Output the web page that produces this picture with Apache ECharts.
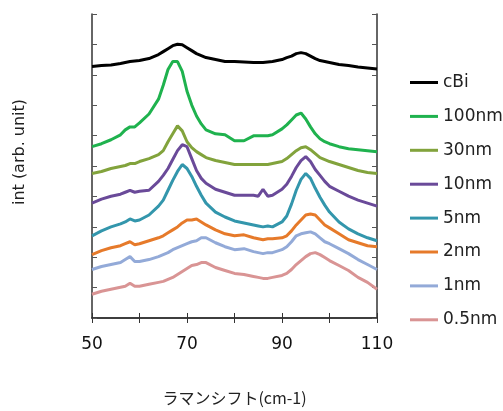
<!DOCTYPE html>
<html>
<head>
<meta charset="utf-8">
<script src="https://cdn.jsdelivr.net/npm/echarts@6/dist/echarts.min.js"></script>
<style>html,body{margin:0;padding:0;background:#fff}#c{width:503px;height:411px}</style>
</head>
<body>
<div id="c"></div>
<script>
// Raman shift (cm-1)
var shift = [50,52,54,56,57,58,59,60,62,64,65,66,67,68,69,70,71,72,73,74,76,78,80,82,84,85,86,87,88,90,91,92,93,94,95,96,97,98,99,100,102,104,106,108,110];
// intensity (arb. unit), offset stacked
var cBi    = [254,255,255.5,257,258,259,259.5,260,262,266,269,272,275,276.5,276,273,270,267,265,263,261,259,259,258.5,258,258,258,258.5,259,261,263,264.5,267,268,267,264.5,262,260,259,258,256,255,253.5,252.5,251.5];
var nm100  = [173,176,180,185,190,193,193,197,206,221,235,251,259,259,249,229,215,204,196,190,186,185,179,179,184,184,184,184,185,191,195,200,205,207,201,193,186,181,178,176,173,171,170,169,168];
var nm30   = [146,148,151,153,154,156,156,158,161,165,169,178,186,194,189,178,172,168,165,162,159,157,155,155,155,155,155,155,156,158,161,165,169,172,173,170,166,162,160,158,155,152,149,147,146];
var nm10   = [116,120,123,125,127,129,127,128,129,138,144,151,160,169,175,173,161,149,141,136,130,127,124,124,124,123,130,123,124,130,135,143,152,159,163,158,150,144,138,133,128,123,119,116,113];
var nm5    = [83,88,92,95,97,100,98,99,104,113,119,129,139,148,155,151,143,133,124,116,107,102,98,96,94,93,92,93,92,97,103,115,129,140,146,141,131,122,114,107,97,90,85,81,78];
var nm2    = [64,68,71,73,75,77,74,75,78,81,83,86,89,92,96,99,99,100,97,94,89,85,83,84,81,80,79,80,80,81,83,88,94,99,104,105,104,99,94,91,85,79,76,73,72];
var nm1    = [49,52,54,56,59,62,57,57,59,62,64,66,69,71,73,75,77,78,81,81,76,72,69,70,67,66,65,66,66,69,72,77,83,85,86,87,85,81,77,75,70,65,59,54,49];
var nm05   = [24,27,29,31,32,35,32,32,34,36,37,39,41,44,47,50,53,54,56,56,51,48,45,44,42,41,40,40,41,43,45,49,54,58,62,65,66,64,61,58,53,48,41,36,29];

var names  = ['cBi','100nm','30nm','10nm','5nm','2nm','1nm','0.5nm'];
var values = [cBi, nm100, nm30, nm10, nm5, nm2, nm1, nm05];
var colors = ['#000000','#1fb24e','#82a33c','#6a4a99','#3396ac','#e67a2a','#93aad8','#d99494'];

function pairs(ys){ return shift.map(function(x,i){ return [x, ys[i]]; }); }

var axisLineStyle = {color:'#333', width:1.5};
var chart = echarts.init(document.getElementById('c'), null, {renderer:'canvas'});
chart.setOption({
  animation:false,
  textStyle:{fontFamily:'DejaVu Sans'},
  grid:{left:92, right:126, top:14, bottom:90},
  legend:{
    orient:'vertical', left:410, top:74, padding:0,
    itemWidth:28, itemHeight:3, itemGap:16.9, icon:'rect',
    textStyle:{fontSize:17, lineHeight:17, color:'#222', fontFamily:'DejaVu Sans'},
    data:names
  },
  xAxis:[{
    type:'value', min:50, max:110, interval:10, position:'bottom',
    name:'ラマンシフト(cm-1)', nameLocation:'middle', nameGap:72,
    nameTextStyle:{fontSize:16, color:'#222', fontFamily:'Noto Sans CJK JP'},
    axisLine:{show:true, lineStyle:axisLineStyle},
    axisTick:{show:true, inside:true, length:5, lineStyle:{color:'#333'}},
    axisLabel:{interval:1, fontSize:17, color:'#111', margin:18,
      formatter:function(v){ return ((v-50)%20===0) ? String(v) : ''; }},
    splitLine:{show:false}
  },{
    type:'value', min:50, max:110, interval:10, position:'top',
    axisLine:{show:true, lineStyle:axisLineStyle},
    axisTick:{show:true, inside:true, length:5, lineStyle:{color:'#333'}},
    axisLabel:{show:false}, splitLine:{show:false}
  }],
  yAxis:[{
    type:'value', min:0, max:307, interval:30.7, position:'left',
    name:'int (arb. unit)', nameLocation:'middle', nameGap:64,
    nameTextStyle:{fontSize:16, color:'#222', fontFamily:'DejaVu Sans', padding:[0,0,0,28]},
    axisLine:{show:true, lineStyle:axisLineStyle},
    axisTick:{show:true, inside:true, length:5, lineStyle:{color:'#555'}},
    axisLabel:{show:false}, splitLine:{show:false}
  },{
    type:'value', min:0, max:307, interval:30.7, position:'right',
    axisLine:{show:true, lineStyle:axisLineStyle},
    axisTick:{show:true, inside:true, length:5, lineStyle:{color:'#555'}},
    axisLabel:{show:false}, splitLine:{show:false}
  }],
  series: names.map(function(n,i){
    return {name:n, type:'line', data:pairs(values[i]), showSymbol:false, symbol:'none',
      lineStyle:{width:3, color:colors[i]}, itemStyle:{color:colors[i]}, z:10-i};
  })
});
</script>
</body>
</html>
